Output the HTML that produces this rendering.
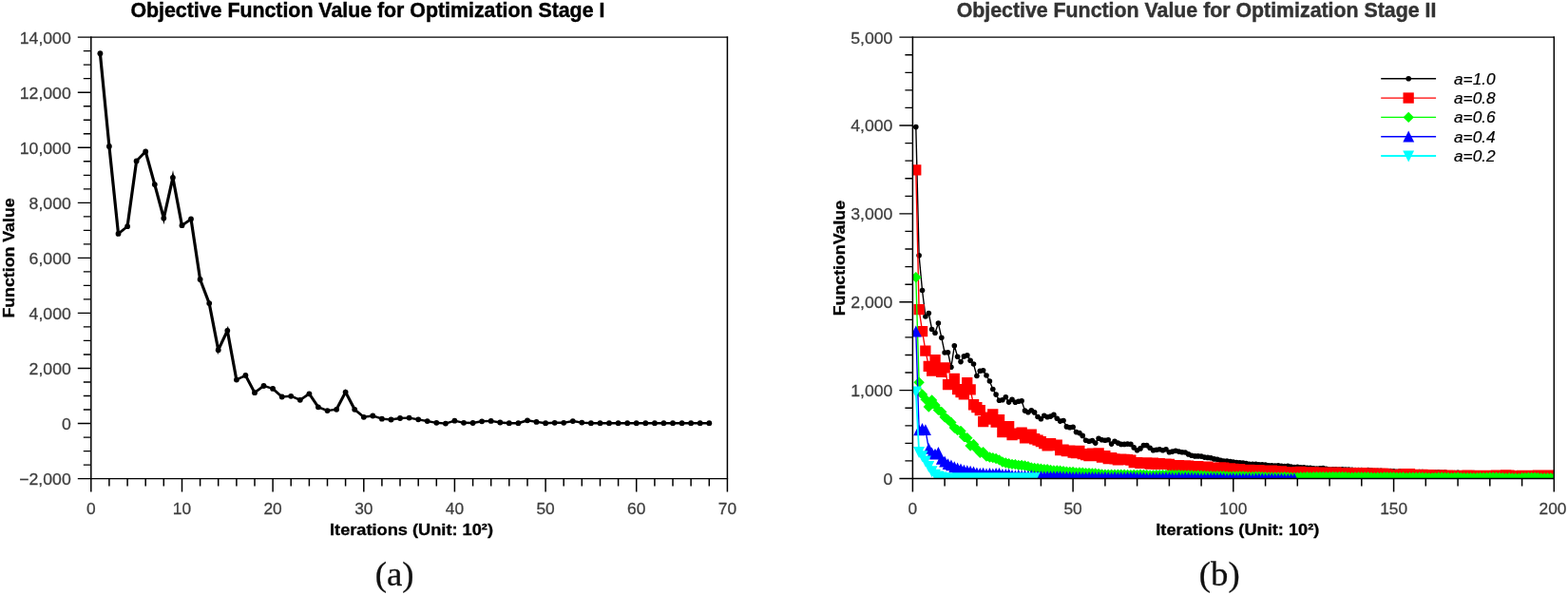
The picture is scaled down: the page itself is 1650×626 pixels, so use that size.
<!DOCTYPE html>
<html lang="en"><head><meta charset="utf-8"><title>Objective Function Value for Optimization Stages</title>
<style>
html,body{margin:0;padding:0;background:#fff;}
body{width:1650px;height:626px;overflow:hidden;}
svg{display:block;}
text{font-family:"Liberation Sans",sans-serif;}
.tl{font-size:16.7px;fill:#3d3d3d;stroke:#3d3d3d;stroke-width:.25px;}
.ttl{font-size:22.3px;font-weight:bold;stroke-width:.45px;}
.ax{font-size:15.7px;font-weight:bold;fill:#000;stroke:#000;stroke-width:.3px;}
.lg{font-size:16.5px;font-style:italic;fill:#000;stroke:#000;stroke-width:.2px;}
.cap{font-family:"Liberation Serif",serif;font-size:36.8px;fill:#111;stroke:#111;stroke-width:.3px;}
.axl{stroke:#000;fill:none;stroke-linecap:butt;}
</style></head><body>
<svg width="1650" height="626" viewBox="0 0 1650 626">
<rect width="1650" height="626" fill="#fff"/>
<defs>
<clipPath id="clipR"><rect x="960.4" y="39.1" width="674.9" height="464.4"/></clipPath>
</defs>
<g id="chart-a">
<text class="ttl" transform="translate(386.9 17.9) scale(0.957 1)" text-anchor="middle" fill="#000" stroke="#000">Objective Function Value for Optimization Stage I</text>
<text class="ax" transform="translate(14.7 271.5) rotate(-90) scale(1.13 1)" text-anchor="middle">Function Value</text>
<text class="ax" transform="translate(433 563.2) scale(1.16 1)" text-anchor="middle">Iterations (Unit: 10²)</text>
<polyline transform="scale(1.33 1)" fill="none" stroke="#000" stroke-width="2.4" stroke-linejoin="miter" stroke-miterlimit="10" points="79.22,56.2 86.41,154 93.61,245.9 100.80,238.2 107.99,169.4 115.18,159.5 122.38,194.1 129.57,229.6 136.76,186.8 143.95,237.2 151.15,230.5 158.34,294 165.53,319.1 172.72,368.2 179.91,347.8 187.11,399.6 194.30,395 201.49,413.2 208.68,406 215.88,408.9 223.07,417.5 230.26,416.8 237.45,420.8 244.64,414.3 251.84,428.3 259.03,432.1 266.22,430.8 273.41,412.6 280.61,430.8 287.80,438.8 294.99,437.5 302.18,440.7 309.37,441.5 316.57,440 323.76,439.6 330.95,441.3 338.14,443.1 345.34,444.8 352.53,445.6 359.72,442.7 366.91,444.8 374.11,445 381.30,443.3 388.49,442.9 395.68,444.5 402.87,445.2 410.07,445.2 417.26,442.3 424.45,443.9 431.64,445.2 438.84,444.8 446.03,444.8 453.22,443.1 460.41,444.6 467.60,445.2 474.80,445.2 481.99,445.2 489.18,445.2 496.37,445.2 503.57,445.2 510.76,445.2 517.95,445.2 525.14,445.2 532.34,445.2 539.53,445.2 546.72,445.2 553.91,445.2 561.10,445.2"/>
<g fill="#000"><circle cx="105.4" cy="56.2" r="2.9"/><circle cx="114.9" cy="154" r="2.9"/><circle cx="124.5" cy="245.9" r="2.9"/><circle cx="134.1" cy="238.2" r="2.9"/><circle cx="143.6" cy="169.4" r="2.9"/><circle cx="153.2" cy="159.5" r="2.9"/><circle cx="162.8" cy="194.1" r="2.9"/><circle cx="172.3" cy="229.6" r="2.9"/><circle cx="181.9" cy="186.8" r="2.9"/><circle cx="191.5" cy="237.2" r="2.9"/><circle cx="201" cy="230.5" r="2.9"/><circle cx="210.6" cy="294" r="2.9"/><circle cx="220.2" cy="319.1" r="2.9"/><circle cx="229.7" cy="368.2" r="2.9"/><circle cx="239.3" cy="347.8" r="2.9"/><circle cx="248.9" cy="399.6" r="2.9"/><circle cx="258.4" cy="395" r="2.9"/><circle cx="268" cy="413.2" r="2.9"/><circle cx="277.5" cy="406" r="2.9"/><circle cx="287.1" cy="408.9" r="2.9"/><circle cx="296.7" cy="417.5" r="2.9"/><circle cx="306.2" cy="416.8" r="2.9"/><circle cx="315.8" cy="420.8" r="2.9"/><circle cx="325.4" cy="414.3" r="2.9"/><circle cx="334.9" cy="428.3" r="2.9"/><circle cx="344.5" cy="432.1" r="2.9"/><circle cx="354.1" cy="430.8" r="2.9"/><circle cx="363.6" cy="412.6" r="2.9"/><circle cx="373.2" cy="430.8" r="2.9"/><circle cx="382.8" cy="438.8" r="2.9"/><circle cx="392.3" cy="437.5" r="2.9"/><circle cx="401.9" cy="440.7" r="2.9"/><circle cx="411.5" cy="441.5" r="2.9"/><circle cx="421" cy="440" r="2.9"/><circle cx="430.6" cy="439.6" r="2.9"/><circle cx="440.2" cy="441.3" r="2.9"/><circle cx="449.7" cy="443.1" r="2.9"/><circle cx="459.3" cy="444.8" r="2.9"/><circle cx="468.9" cy="445.6" r="2.9"/><circle cx="478.4" cy="442.7" r="2.9"/><circle cx="488" cy="444.8" r="2.9"/><circle cx="497.6" cy="445" r="2.9"/><circle cx="507.1" cy="443.3" r="2.9"/><circle cx="516.7" cy="442.9" r="2.9"/><circle cx="526.3" cy="444.5" r="2.9"/><circle cx="535.8" cy="445.2" r="2.9"/><circle cx="545.4" cy="445.2" r="2.9"/><circle cx="555" cy="442.3" r="2.9"/><circle cx="564.5" cy="443.9" r="2.9"/><circle cx="574.1" cy="445.2" r="2.9"/><circle cx="583.7" cy="444.8" r="2.9"/><circle cx="593.2" cy="444.8" r="2.9"/><circle cx="602.8" cy="443.1" r="2.9"/><circle cx="612.3" cy="444.6" r="2.9"/><circle cx="621.9" cy="445.2" r="2.9"/><circle cx="631.5" cy="445.2" r="2.9"/><circle cx="641" cy="445.2" r="2.9"/><circle cx="650.6" cy="445.2" r="2.9"/><circle cx="660.2" cy="445.2" r="2.9"/><circle cx="669.7" cy="445.2" r="2.9"/><circle cx="679.3" cy="445.2" r="2.9"/><circle cx="688.9" cy="445.2" r="2.9"/><circle cx="698.4" cy="445.2" r="2.9"/><circle cx="708" cy="445.2" r="2.9"/><circle cx="717.6" cy="445.2" r="2.9"/><circle cx="727.1" cy="445.2" r="2.9"/><circle cx="736.7" cy="445.2" r="2.9"/><circle cx="746.3" cy="445.2" r="2.9"/></g>
<path class="axl" stroke-width="1.35" d="M81.8 39.1H766.1M81.8 503.6H766.1M95.8 53.6h-8M95.8 68.1h-8M95.8 82.6h-8M95.8 97.2h-14M95.8 111.7h-8M95.8 126.2h-8M95.8 140.7h-8M95.8 155.2h-14M95.8 169.7h-8M95.8 184.3h-8M95.8 198.8h-8M95.8 213.3h-14M95.8 227.8h-8M95.8 242.3h-8M95.8 256.8h-8M95.8 271.4h-14M95.8 285.9h-8M95.8 300.4h-8M95.8 314.9h-8M95.8 329.4h-14M95.8 343.9h-8M95.8 358.4h-8M95.8 373h-8M95.8 387.5h-14M95.8 402h-8M95.8 416.5h-8M95.8 431h-8M95.8 445.5h-14M95.8 460.1h-8M95.8 474.6h-8M95.8 489.1h-8"/>
<path class="axl" stroke-width="1.5" d="M95.8 38.4V517.6M765.4 38.4V517.6M114.9 503.6v8M134.1 503.6v8M153.2 503.6v8M172.3 503.6v8M191.5 503.6v14M210.6 503.6v8M229.7 503.6v8M248.9 503.6v8M268 503.6v8M287.1 503.6v14M306.2 503.6v8M325.4 503.6v8M344.5 503.6v8M363.6 503.6v8M382.8 503.6v14M401.9 503.6v8M421 503.6v8M440.2 503.6v8M459.3 503.6v8M478.4 503.6v14M497.6 503.6v8M516.7 503.6v8M535.8 503.6v8M555 503.6v8M574.1 503.6v14M593.2 503.6v8M612.3 503.6v8M631.5 503.6v8M650.6 503.6v8M669.7 503.6v14M688.9 503.6v8M708 503.6v8M727.1 503.6v8M746.3 503.6v8"/>
<text class="tl" transform="translate(74.8 45.5) scale(1.06 1)" text-anchor="end">14,000</text>
<text class="tl" transform="translate(74.8 103.6) scale(1.06 1)" text-anchor="end">12,000</text>
<text class="tl" transform="translate(74.8 161.6) scale(1.06 1)" text-anchor="end">10,000</text>
<text class="tl" transform="translate(74.8 219.7) scale(1.06 1)" text-anchor="end">8,000</text>
<text class="tl" transform="translate(74.8 277.8) scale(1.06 1)" text-anchor="end">6,000</text>
<text class="tl" transform="translate(74.8 335.8) scale(1.06 1)" text-anchor="end">4,000</text>
<text class="tl" transform="translate(74.8 393.9) scale(1.06 1)" text-anchor="end">2,000</text>
<text class="tl" transform="translate(74.8 451.9) scale(1.06 1)" text-anchor="end">0</text>
<text class="tl" transform="translate(74.8 510) scale(1.06 1)" text-anchor="end">−2,000</text>
<text class="tl" transform="translate(95.8 541.4) scale(1.04 1)" text-anchor="middle">0</text>
<text class="tl" transform="translate(191.5 541.4) scale(1.04 1)" text-anchor="middle">10</text>
<text class="tl" transform="translate(287.1 541.4) scale(1.04 1)" text-anchor="middle">20</text>
<text class="tl" transform="translate(382.8 541.4) scale(1.04 1)" text-anchor="middle">30</text>
<text class="tl" transform="translate(478.4 541.4) scale(1.04 1)" text-anchor="middle">40</text>
<text class="tl" transform="translate(574.1 541.4) scale(1.04 1)" text-anchor="middle">50</text>
<text class="tl" transform="translate(669.7 541.4) scale(1.04 1)" text-anchor="middle">60</text>
<text class="tl" transform="translate(765.4 541.4) scale(1.04 1)" text-anchor="middle">70</text>
<text class="cap" transform="translate(415.1 616.3)" text-anchor="middle">(a)</text>
</g>
<g id="chart-b">
<text class="ttl" transform="translate(1259 17.9) scale(0.9565 1)" text-anchor="middle" fill="#333" stroke="#333">Objective Function Value for Optimization Stage II</text>
<text class="ax" transform="translate(889.4 271.6) rotate(-90) scale(1.13 1)" text-anchor="middle">FunctionValue</text>
<text class="ax" transform="translate(1302.3 563.2) scale(1.16 1)" text-anchor="middle">Iterations (Unit: 10²)</text>
<g clip-path="url(#clipR)">
<polyline fill="none" stroke="#000" stroke-width="1.4" stroke-linejoin="miter" points="963.8,133.6 967.1,268.7 970.5,305.5 973.9,333 977.3,329.6 980.6,346.5 984,350.2 987.4,340 990.8,355.3 994.1,371 997.5,370.7 1000.9,386.3 1004.3,363.8 1007.6,375.3 1011,380.6 1014.4,374.9 1017.8,373.9 1021.1,379.2 1024.5,383 1027.9,395.5 1031.3,390.2 1034.6,389.8 1038,395 1041.4,401 1044.8,409.5 1048.1,415.1 1051.5,421.2 1054.9,420.8 1058.3,417.7 1061.6,423.1 1065,420.2 1068.4,423.3 1071.8,422.2 1075.1,421.8 1078.5,432.1 1081.9,433.7 1085.3,431.7 1088.6,433.9 1092,438.5 1095.4,440.8 1098.8,437.3 1102.1,438.7 1105.5,438.1 1108.9,436.4 1112.3,440.2 1115.6,443.1 1119,442.5 1122.4,448.9 1125.8,449.8 1129.1,449.2 1132.5,454.6 1135.9,455.6 1139.2,458.4 1142.6,463.2 1146,464.2 1149.4,463.6 1152.7,466.1 1156.1,461.3 1159.5,462.8 1162.9,463.2 1166.2,462.8 1169.6,467.1 1173,464.2 1176.4,466.1 1179.7,467.4 1183.1,467.4 1186.5,467.1 1189.9,467.4 1193.2,470.9 1196.6,473.8 1200,471.9 1203.4,468.6 1206.7,468.6 1210.1,471.3 1213.5,473.8 1216.9,473.2 1220.2,472.8 1223.6,473.8 1227,472.8 1230.4,475.7 1233.7,475.1 1237.1,474.3 1240.5,475.1 1243.9,475.7 1247.2,476 1250.6,477.9 1254,479.3 1257.4,479.9 1260.7,479.9 1264.1,480.1 1267.5,481.1 1270.9,481.4 1274.2,481.7 1277.6,482.9 1281,483.2 1284.4,484.3 1287.7,485 1291.1,485.1 1294.5,485.5 1297.8,486 1301.2,486.5 1304.6,486.8 1308,487.1 1311.3,487.5 1314.7,488.2 1318.1,488.2 1321.5,488.4 1324.8,488.9 1328.2,488.8 1331.6,489 1335,489.9 1338.3,489.9 1341.7,490.1 1345.1,489.8 1348.5,490.2 1351.8,490.6 1355.2,490.4 1358.6,491 1362,491.5 1365.3,491.2 1368.7,491.7 1372.1,491.9 1375.5,492.4 1378.8,492.3 1382.2,492.8 1385.6,493.1 1389,492.7 1392.3,492.6 1395.7,493.3 1399.1,494 1402.5,493.7 1405.8,493.8 1409.2,494 1412.6,493.9 1416,494 1419.3,494 1422.7,494.2 1426.1,494.5 1429.5,494.5 1432.8,494.6 1436.2,495.1 1439.6,494.6 1443,495 1446.3,495.5 1449.7,495.3 1453.1,495.2 1456.5,495.8 1459.8,495.6 1463.2,495.5 1466.6,495.8 1469.9,496.2 1473.3,495.8 1476.7,495.9 1480.1,496 1483.4,496.7 1486.8,496.6 1490.2,497 1493.6,496.6 1496.9,496.6 1500.3,497 1503.7,497.4 1507.1,497.3 1510.4,497 1513.8,496.8 1517.2,497.2 1520.6,497.1 1523.9,497.7 1527.3,498 1530.7,497.5 1534.1,497.4 1537.4,497.9 1540.8,498 1544.2,498.3 1547.6,498 1550.9,497.6 1554.3,497.7 1557.7,498.3 1561.1,498 1564.4,498 1567.8,498.1 1571.2,498.2 1574.6,498.2 1577.9,498.8 1581.3,498.2 1584.7,497.9 1588.1,498.7 1591.4,499 1594.8,499.3 1598.2,498.9 1601.6,499.2 1604.9,499.4 1608.3,498.7 1611.7,499 1615.1,499.3 1618.4,499.2 1621.8,499 1625.2,498.8 1628.6,498.7 1631.9,498.6 1635.3,498.4"/>
<g fill="#000"><circle cx="963.8" cy="133.6" r="2.8"/><circle cx="967.1" cy="268.7" r="2.8"/><circle cx="970.5" cy="305.5" r="2.8"/><circle cx="973.9" cy="333" r="2.8"/><circle cx="977.3" cy="329.6" r="2.8"/><circle cx="980.6" cy="346.5" r="2.8"/><circle cx="984" cy="350.2" r="2.8"/><circle cx="987.4" cy="340" r="2.8"/><circle cx="990.8" cy="355.3" r="2.8"/><circle cx="994.1" cy="371" r="2.8"/><circle cx="997.5" cy="370.7" r="2.8"/><circle cx="1000.9" cy="386.3" r="2.8"/><circle cx="1004.3" cy="363.8" r="2.8"/><circle cx="1007.6" cy="375.3" r="2.8"/><circle cx="1011" cy="380.6" r="2.8"/><circle cx="1014.4" cy="374.9" r="2.8"/><circle cx="1017.8" cy="373.9" r="2.8"/><circle cx="1021.1" cy="379.2" r="2.8"/><circle cx="1024.5" cy="383" r="2.8"/><circle cx="1027.9" cy="395.5" r="2.8"/><circle cx="1031.3" cy="390.2" r="2.8"/><circle cx="1034.6" cy="389.8" r="2.8"/><circle cx="1038" cy="395" r="2.8"/><circle cx="1041.4" cy="401" r="2.8"/><circle cx="1044.8" cy="409.5" r="2.8"/><circle cx="1048.1" cy="415.1" r="2.8"/><circle cx="1051.5" cy="421.2" r="2.8"/><circle cx="1054.9" cy="420.8" r="2.8"/><circle cx="1058.3" cy="417.7" r="2.8"/><circle cx="1061.6" cy="423.1" r="2.8"/><circle cx="1065" cy="420.2" r="2.8"/><circle cx="1068.4" cy="423.3" r="2.8"/><circle cx="1071.8" cy="422.2" r="2.8"/><circle cx="1075.1" cy="421.8" r="2.8"/><circle cx="1078.5" cy="432.1" r="2.8"/><circle cx="1081.9" cy="433.7" r="2.8"/><circle cx="1085.3" cy="431.7" r="2.8"/><circle cx="1088.6" cy="433.9" r="2.8"/><circle cx="1092" cy="438.5" r="2.8"/><circle cx="1095.4" cy="440.8" r="2.8"/><circle cx="1098.8" cy="437.3" r="2.8"/><circle cx="1102.1" cy="438.7" r="2.8"/><circle cx="1105.5" cy="438.1" r="2.8"/><circle cx="1108.9" cy="436.4" r="2.8"/><circle cx="1112.3" cy="440.2" r="2.8"/><circle cx="1115.6" cy="443.1" r="2.8"/><circle cx="1119" cy="442.5" r="2.8"/><circle cx="1122.4" cy="448.9" r="2.8"/><circle cx="1125.8" cy="449.8" r="2.8"/><circle cx="1129.1" cy="449.2" r="2.8"/><circle cx="1132.5" cy="454.6" r="2.8"/><circle cx="1135.9" cy="455.6" r="2.8"/><circle cx="1139.2" cy="458.4" r="2.8"/><circle cx="1142.6" cy="463.2" r="2.8"/><circle cx="1146" cy="464.2" r="2.8"/><circle cx="1149.4" cy="463.6" r="2.8"/><circle cx="1152.7" cy="466.1" r="2.8"/><circle cx="1156.1" cy="461.3" r="2.8"/><circle cx="1159.5" cy="462.8" r="2.8"/><circle cx="1162.9" cy="463.2" r="2.8"/><circle cx="1166.2" cy="462.8" r="2.8"/><circle cx="1169.6" cy="467.1" r="2.8"/><circle cx="1173" cy="464.2" r="2.8"/><circle cx="1176.4" cy="466.1" r="2.8"/><circle cx="1179.7" cy="467.4" r="2.8"/><circle cx="1183.1" cy="467.4" r="2.8"/><circle cx="1186.5" cy="467.1" r="2.8"/><circle cx="1189.9" cy="467.4" r="2.8"/><circle cx="1193.2" cy="470.9" r="2.8"/><circle cx="1196.6" cy="473.8" r="2.8"/><circle cx="1200" cy="471.9" r="2.8"/><circle cx="1203.4" cy="468.6" r="2.8"/><circle cx="1206.7" cy="468.6" r="2.8"/><circle cx="1210.1" cy="471.3" r="2.8"/><circle cx="1213.5" cy="473.8" r="2.8"/><circle cx="1216.9" cy="473.2" r="2.8"/><circle cx="1220.2" cy="472.8" r="2.8"/><circle cx="1223.6" cy="473.8" r="2.8"/><circle cx="1227" cy="472.8" r="2.8"/><circle cx="1230.4" cy="475.7" r="2.8"/><circle cx="1233.7" cy="475.1" r="2.8"/><circle cx="1237.1" cy="474.3" r="2.8"/><circle cx="1240.5" cy="475.1" r="2.8"/><circle cx="1243.9" cy="475.7" r="2.8"/><circle cx="1247.2" cy="476" r="2.8"/><circle cx="1250.6" cy="477.9" r="2.8"/><circle cx="1254" cy="479.3" r="2.8"/><circle cx="1257.4" cy="479.9" r="2.8"/><circle cx="1260.7" cy="479.9" r="2.8"/><circle cx="1264.1" cy="480.1" r="2.8"/><circle cx="1267.5" cy="481.1" r="2.8"/><circle cx="1270.9" cy="481.4" r="2.8"/><circle cx="1274.2" cy="481.7" r="2.8"/><circle cx="1277.6" cy="482.9" r="2.8"/><circle cx="1281" cy="483.2" r="2.8"/><circle cx="1284.4" cy="484.3" r="2.8"/><circle cx="1287.7" cy="485" r="2.8"/><circle cx="1291.1" cy="485.1" r="2.8"/><circle cx="1294.5" cy="485.5" r="2.8"/><circle cx="1297.8" cy="486" r="2.8"/><circle cx="1301.2" cy="486.5" r="2.8"/><circle cx="1304.6" cy="486.8" r="2.8"/><circle cx="1308" cy="487.1" r="2.8"/><circle cx="1311.3" cy="487.5" r="2.8"/><circle cx="1314.7" cy="488.2" r="2.8"/><circle cx="1318.1" cy="488.2" r="2.8"/><circle cx="1321.5" cy="488.4" r="2.8"/><circle cx="1324.8" cy="488.9" r="2.8"/><circle cx="1328.2" cy="488.8" r="2.8"/><circle cx="1331.6" cy="489" r="2.8"/><circle cx="1335" cy="489.9" r="2.8"/><circle cx="1338.3" cy="489.9" r="2.8"/><circle cx="1341.7" cy="490.1" r="2.8"/><circle cx="1345.1" cy="489.8" r="2.8"/><circle cx="1348.5" cy="490.2" r="2.8"/><circle cx="1351.8" cy="490.6" r="2.8"/><circle cx="1355.2" cy="490.4" r="2.8"/><circle cx="1358.6" cy="491" r="2.8"/><circle cx="1362" cy="491.5" r="2.8"/><circle cx="1365.3" cy="491.2" r="2.8"/><circle cx="1368.7" cy="491.7" r="2.8"/><circle cx="1372.1" cy="491.9" r="2.8"/><circle cx="1375.5" cy="492.4" r="2.8"/><circle cx="1378.8" cy="492.3" r="2.8"/><circle cx="1382.2" cy="492.8" r="2.8"/><circle cx="1385.6" cy="493.1" r="2.8"/><circle cx="1389" cy="492.7" r="2.8"/><circle cx="1392.3" cy="492.6" r="2.8"/><circle cx="1395.7" cy="493.3" r="2.8"/><circle cx="1399.1" cy="494" r="2.8"/><circle cx="1402.5" cy="493.7" r="2.8"/><circle cx="1405.8" cy="493.8" r="2.8"/><circle cx="1409.2" cy="494" r="2.8"/><circle cx="1412.6" cy="493.9" r="2.8"/><circle cx="1416" cy="494" r="2.8"/><circle cx="1419.3" cy="494" r="2.8"/><circle cx="1422.7" cy="494.2" r="2.8"/><circle cx="1426.1" cy="494.5" r="2.8"/><circle cx="1429.5" cy="494.5" r="2.8"/><circle cx="1432.8" cy="494.6" r="2.8"/><circle cx="1436.2" cy="495.1" r="2.8"/><circle cx="1439.6" cy="494.6" r="2.8"/><circle cx="1443" cy="495" r="2.8"/><circle cx="1446.3" cy="495.5" r="2.8"/><circle cx="1449.7" cy="495.3" r="2.8"/><circle cx="1453.1" cy="495.2" r="2.8"/><circle cx="1456.5" cy="495.8" r="2.8"/><circle cx="1459.8" cy="495.6" r="2.8"/><circle cx="1463.2" cy="495.5" r="2.8"/><circle cx="1466.6" cy="495.8" r="2.8"/><circle cx="1469.9" cy="496.2" r="2.8"/><circle cx="1473.3" cy="495.8" r="2.8"/><circle cx="1476.7" cy="495.9" r="2.8"/><circle cx="1480.1" cy="496" r="2.8"/><circle cx="1483.4" cy="496.7" r="2.8"/><circle cx="1486.8" cy="496.6" r="2.8"/><circle cx="1490.2" cy="497" r="2.8"/><circle cx="1493.6" cy="496.6" r="2.8"/><circle cx="1496.9" cy="496.6" r="2.8"/><circle cx="1500.3" cy="497" r="2.8"/><circle cx="1503.7" cy="497.4" r="2.8"/><circle cx="1507.1" cy="497.3" r="2.8"/><circle cx="1510.4" cy="497" r="2.8"/><circle cx="1513.8" cy="496.8" r="2.8"/><circle cx="1517.2" cy="497.2" r="2.8"/><circle cx="1520.6" cy="497.1" r="2.8"/><circle cx="1523.9" cy="497.7" r="2.8"/><circle cx="1527.3" cy="498" r="2.8"/><circle cx="1530.7" cy="497.5" r="2.8"/><circle cx="1534.1" cy="497.4" r="2.8"/><circle cx="1537.4" cy="497.9" r="2.8"/><circle cx="1540.8" cy="498" r="2.8"/><circle cx="1544.2" cy="498.3" r="2.8"/><circle cx="1547.6" cy="498" r="2.8"/><circle cx="1550.9" cy="497.6" r="2.8"/><circle cx="1554.3" cy="497.7" r="2.8"/><circle cx="1557.7" cy="498.3" r="2.8"/><circle cx="1561.1" cy="498" r="2.8"/><circle cx="1564.4" cy="498" r="2.8"/><circle cx="1567.8" cy="498.1" r="2.8"/><circle cx="1571.2" cy="498.2" r="2.8"/><circle cx="1574.6" cy="498.2" r="2.8"/><circle cx="1577.9" cy="498.8" r="2.8"/><circle cx="1581.3" cy="498.2" r="2.8"/><circle cx="1584.7" cy="497.9" r="2.8"/><circle cx="1588.1" cy="498.7" r="2.8"/><circle cx="1591.4" cy="499" r="2.8"/><circle cx="1594.8" cy="499.3" r="2.8"/><circle cx="1598.2" cy="498.9" r="2.8"/><circle cx="1601.6" cy="499.2" r="2.8"/><circle cx="1604.9" cy="499.4" r="2.8"/><circle cx="1608.3" cy="498.7" r="2.8"/><circle cx="1611.7" cy="499" r="2.8"/><circle cx="1615.1" cy="499.3" r="2.8"/><circle cx="1618.4" cy="499.2" r="2.8"/><circle cx="1621.8" cy="499" r="2.8"/><circle cx="1625.2" cy="498.8" r="2.8"/><circle cx="1628.6" cy="498.7" r="2.8"/><circle cx="1631.9" cy="498.6" r="2.8"/><circle cx="1635.3" cy="498.4" r="2.8"/></g>
<polyline fill="none" stroke="#f00" stroke-width="1.4" stroke-linejoin="miter" points="963.8,178.8 967.1,325.6 970.5,348.5 973.9,369.1 977.3,385.3 980.6,390 984,378.6 987.4,388 990.8,391.4 994.1,386.9 997.5,404.5 1000.9,404.5 1004.3,398.4 1007.6,409.6 1011,412.5 1014.4,414.9 1017.8,402.7 1021.1,409.9 1024.5,425.7 1027.9,428.6 1031.3,431.5 1034.6,443.6 1038,441 1041.4,439 1044.8,435.8 1048.1,444 1051.5,441.5 1054.9,454.6 1058.3,452 1061.6,448.7 1065,457.5 1068.4,456 1071.8,456.5 1075.1,455 1078.5,460.8 1081.9,457 1085.3,457 1088.6,461.7 1092,463 1095.4,464.6 1098.8,466.5 1102.1,468.8 1105.5,466.5 1108.9,468.5 1112.3,468.2 1115.6,473.6 1119,473 1122.4,474.5 1125.8,474 1129.1,476 1132.5,476.5 1135.9,474.4 1139.2,477.5 1142.6,478.5 1146,479.5 1149.4,477 1152.7,479.5 1156.1,476.8 1159.5,481 1162.9,479.5 1166.2,482.5 1169.6,481.5 1173,483 1176.4,483.9 1179.7,483.1 1183.1,483.5 1186.5,483.7 1189.9,484.1 1193.2,486.5 1196.6,486.5 1200,487.2 1203.4,487.4 1206.7,486.9 1210.1,488 1213.5,487.3 1216.9,488.2 1220.2,487.7 1223.6,488.2 1227,488.2 1230.4,488.4 1233.7,489.9 1237.1,490.3 1240.5,489.7 1243.9,490.6 1247.2,489.9 1250.6,490.1 1254,491 1257.4,491.2 1260.7,490.6 1264.1,491.8 1267.5,491.3 1270.9,491.3 1274.2,492.1 1277.6,492 1281,492.1 1284.4,492 1287.7,492.1 1291.1,492.8 1294.5,492.9 1297.8,493.5 1301.2,493.5 1304.6,493.7 1308,494.4 1311.3,494.3 1314.7,494.5 1318.1,494.9 1321.5,494.6 1324.8,494.5 1328.2,495.2 1331.6,495.6 1335,495.3 1338.3,495.3 1341.7,495.8 1345.1,496.3 1348.5,496 1351.8,496.6 1355.2,496.9 1358.6,496.9 1362,496.8 1365.3,496.6 1368.7,496.4 1372.1,497.2 1375.5,496.9 1378.8,497.2 1382.2,497 1385.6,497.4 1389,497.4 1392.3,497.2 1395.7,497 1399.1,497.4 1402.5,497.1 1405.8,497.2 1409.2,497.5 1412.6,498 1416,498 1419.3,497.8 1422.7,498.3 1426.1,497.9 1429.5,497.6 1432.8,497.8 1436.2,498 1439.6,497.8 1443,497.9 1446.3,498.1 1449.7,498.5 1453.1,498.3 1456.5,498.4 1459.8,499 1463.2,499.4 1466.6,499.3 1469.9,499.3 1473.3,499.3 1476.7,499 1480.1,498.8 1483.4,498.7 1486.8,499.5 1490.2,499.7 1493.6,500 1496.9,499.4 1500.3,499.7 1503.7,499.8 1507.1,500.1 1510.4,499.9 1513.8,500.4 1517.2,499.9 1520.6,500.1 1523.9,500.3 1527.3,500.5 1530.7,500.5 1534.1,500.5 1537.4,500.6 1540.8,500.7 1544.2,500.3 1547.6,500.4 1550.9,500.6 1554.3,500.7 1557.7,500.4 1561.1,500.5 1564.4,500.7 1567.8,500.5 1571.2,500.5 1574.6,500.2 1577.9,500.3 1581.3,500.4 1584.7,500 1588.1,500.3 1591.4,500.7 1594.8,500.8 1598.2,500.7 1601.6,500.4 1604.9,500.6 1608.3,500.5 1611.7,500.4 1615.1,500.6 1618.4,500.1 1621.8,500.5 1625.2,500 1628.6,500.3 1631.9,500.3 1635.3,500.1"/>
<path fill="#f00" d="M958.1 173.2h11.3v11.3h-11.3zM961.5 320h11.3v11.3h-11.3zM964.9 342.9h11.3v11.3h-11.3zM968.2 363.5h11.3v11.3h-11.3zM971.6 379.7h11.3v11.3h-11.3zM975 384.4h11.3v11.3h-11.3zM978.4 373h11.3v11.3h-11.3zM981.7 382.4h11.3v11.3h-11.3zM985.1 385.8h11.3v11.3h-11.3zM988.5 381.2h11.3v11.3h-11.3zM991.9 398.9h11.3v11.3h-11.3zM995.2 398.9h11.3v11.3h-11.3zM998.6 392.8h11.3v11.3h-11.3zM1002 404h11.3v11.3h-11.3zM1005.4 406.9h11.3v11.3h-11.3zM1008.7 409.2h11.3v11.3h-11.3zM1012.1 397.1h11.3v11.3h-11.3zM1015.5 404.2h11.3v11.3h-11.3zM1018.9 420.1h11.3v11.3h-11.3zM1022.2 423h11.3v11.3h-11.3zM1025.6 425.9h11.3v11.3h-11.3zM1029 438h11.3v11.3h-11.3zM1032.4 435.4h11.3v11.3h-11.3zM1035.7 433.4h11.3v11.3h-11.3zM1039.1 430.2h11.3v11.3h-11.3zM1042.5 438.4h11.3v11.3h-11.3zM1045.9 435.9h11.3v11.3h-11.3zM1049.2 449h11.3v11.3h-11.3zM1052.6 446.4h11.3v11.3h-11.3zM1056 443.1h11.3v11.3h-11.3zM1059.4 451.9h11.3v11.3h-11.3zM1062.7 450.4h11.3v11.3h-11.3zM1066.1 450.9h11.3v11.3h-11.3zM1069.5 449.4h11.3v11.3h-11.3zM1072.9 455.2h11.3v11.3h-11.3zM1076.2 451.4h11.3v11.3h-11.3zM1079.6 451.4h11.3v11.3h-11.3zM1083 456.1h11.3v11.3h-11.3zM1086.4 457.4h11.3v11.3h-11.3zM1089.7 459h11.3v11.3h-11.3zM1093.1 460.9h11.3v11.3h-11.3zM1096.5 463.2h11.3v11.3h-11.3zM1099.9 460.9h11.3v11.3h-11.3zM1103.2 462.9h11.3v11.3h-11.3zM1106.6 462.6h11.3v11.3h-11.3zM1110 468h11.3v11.3h-11.3zM1113.4 467.4h11.3v11.3h-11.3zM1116.7 468.9h11.3v11.3h-11.3zM1120.1 468.4h11.3v11.3h-11.3zM1123.5 470.4h11.3v11.3h-11.3zM1126.8 470.9h11.3v11.3h-11.3zM1130.2 468.8h11.3v11.3h-11.3zM1133.6 471.9h11.3v11.3h-11.3zM1137 472.9h11.3v11.3h-11.3zM1140.3 473.9h11.3v11.3h-11.3zM1143.7 471.4h11.3v11.3h-11.3zM1147.1 473.9h11.3v11.3h-11.3zM1150.5 471.2h11.3v11.3h-11.3zM1153.8 475.4h11.3v11.3h-11.3zM1157.2 473.9h11.3v11.3h-11.3zM1160.6 476.9h11.3v11.3h-11.3zM1164 475.9h11.3v11.3h-11.3zM1167.3 477.3h11.3v11.3h-11.3zM1170.7 478.3h11.3v11.3h-11.3zM1174.1 477.4h11.3v11.3h-11.3zM1177.5 477.8h11.3v11.3h-11.3zM1180.8 478h11.3v11.3h-11.3zM1184.2 478.5h11.3v11.3h-11.3zM1187.6 480.9h11.3v11.3h-11.3zM1191 480.9h11.3v11.3h-11.3zM1194.3 481.6h11.3v11.3h-11.3zM1197.7 481.7h11.3v11.3h-11.3zM1201.1 481.3h11.3v11.3h-11.3zM1204.5 482.4h11.3v11.3h-11.3zM1207.8 481.6h11.3v11.3h-11.3zM1211.2 482.6h11.3v11.3h-11.3zM1214.6 482h11.3v11.3h-11.3zM1218 482.6h11.3v11.3h-11.3zM1221.3 482.5h11.3v11.3h-11.3zM1224.7 482.8h11.3v11.3h-11.3zM1228.1 484.3h11.3v11.3h-11.3zM1231.5 484.7h11.3v11.3h-11.3zM1234.8 484.1h11.3v11.3h-11.3zM1238.2 484.9h11.3v11.3h-11.3zM1241.6 484.3h11.3v11.3h-11.3zM1245 484.4h11.3v11.3h-11.3zM1248.3 485.4h11.3v11.3h-11.3zM1251.7 485.6h11.3v11.3h-11.3zM1255.1 485h11.3v11.3h-11.3zM1258.5 486.1h11.3v11.3h-11.3zM1261.8 485.7h11.3v11.3h-11.3zM1265.2 485.6h11.3v11.3h-11.3zM1268.6 486.5h11.3v11.3h-11.3zM1272 486.4h11.3v11.3h-11.3zM1275.3 486.4h11.3v11.3h-11.3zM1278.7 486.3h11.3v11.3h-11.3zM1282.1 486.4h11.3v11.3h-11.3zM1285.5 487.2h11.3v11.3h-11.3zM1288.8 487.3h11.3v11.3h-11.3zM1292.2 487.8h11.3v11.3h-11.3zM1295.6 487.9h11.3v11.3h-11.3zM1298.9 488.1h11.3v11.3h-11.3zM1302.3 488.7h11.3v11.3h-11.3zM1305.7 488.7h11.3v11.3h-11.3zM1309.1 488.8h11.3v11.3h-11.3zM1312.4 489.2h11.3v11.3h-11.3zM1315.8 488.9h11.3v11.3h-11.3zM1319.2 488.9h11.3v11.3h-11.3zM1322.6 489.6h11.3v11.3h-11.3zM1325.9 489.9h11.3v11.3h-11.3zM1329.3 489.7h11.3v11.3h-11.3zM1332.7 489.6h11.3v11.3h-11.3zM1336.1 490.1h11.3v11.3h-11.3zM1339.4 490.6h11.3v11.3h-11.3zM1342.8 490.3h11.3v11.3h-11.3zM1346.2 490.9h11.3v11.3h-11.3zM1349.6 491.2h11.3v11.3h-11.3zM1352.9 491.2h11.3v11.3h-11.3zM1356.3 491.2h11.3v11.3h-11.3zM1359.7 490.9h11.3v11.3h-11.3zM1363.1 490.8h11.3v11.3h-11.3zM1366.4 491.5h11.3v11.3h-11.3zM1369.8 491.2h11.3v11.3h-11.3zM1373.2 491.6h11.3v11.3h-11.3zM1376.6 491.3h11.3v11.3h-11.3zM1379.9 491.8h11.3v11.3h-11.3zM1383.3 491.8h11.3v11.3h-11.3zM1386.7 491.6h11.3v11.3h-11.3zM1390.1 491.4h11.3v11.3h-11.3zM1393.4 491.8h11.3v11.3h-11.3zM1396.8 491.5h11.3v11.3h-11.3zM1400.2 491.5h11.3v11.3h-11.3zM1403.6 491.9h11.3v11.3h-11.3zM1406.9 492.3h11.3v11.3h-11.3zM1410.3 492.3h11.3v11.3h-11.3zM1413.7 492.1h11.3v11.3h-11.3zM1417.1 492.6h11.3v11.3h-11.3zM1420.4 492.3h11.3v11.3h-11.3zM1423.8 492h11.3v11.3h-11.3zM1427.2 492.1h11.3v11.3h-11.3zM1430.6 492.4h11.3v11.3h-11.3zM1433.9 492.2h11.3v11.3h-11.3zM1437.3 492.3h11.3v11.3h-11.3zM1440.7 492.5h11.3v11.3h-11.3zM1444.1 492.8h11.3v11.3h-11.3zM1447.4 492.6h11.3v11.3h-11.3zM1450.8 492.8h11.3v11.3h-11.3zM1454.2 493.3h11.3v11.3h-11.3zM1457.6 493.7h11.3v11.3h-11.3zM1460.9 493.7h11.3v11.3h-11.3zM1464.3 493.7h11.3v11.3h-11.3zM1467.7 493.7h11.3v11.3h-11.3zM1471 493.3h11.3v11.3h-11.3zM1474.4 493.1h11.3v11.3h-11.3zM1477.8 493h11.3v11.3h-11.3zM1481.2 493.8h11.3v11.3h-11.3zM1484.5 494h11.3v11.3h-11.3zM1487.9 494.4h11.3v11.3h-11.3zM1491.3 493.8h11.3v11.3h-11.3zM1494.7 494.1h11.3v11.3h-11.3zM1498 494.1h11.3v11.3h-11.3zM1501.4 494.4h11.3v11.3h-11.3zM1504.8 494.2h11.3v11.3h-11.3zM1508.2 494.8h11.3v11.3h-11.3zM1511.5 494.3h11.3v11.3h-11.3zM1514.9 494.4h11.3v11.3h-11.3zM1518.3 494.6h11.3v11.3h-11.3zM1521.7 494.9h11.3v11.3h-11.3zM1525 494.9h11.3v11.3h-11.3zM1528.4 494.8h11.3v11.3h-11.3zM1531.8 494.9h11.3v11.3h-11.3zM1535.2 495h11.3v11.3h-11.3zM1538.5 494.6h11.3v11.3h-11.3zM1541.9 494.7h11.3v11.3h-11.3zM1545.3 495h11.3v11.3h-11.3zM1548.7 495.1h11.3v11.3h-11.3zM1552 494.7h11.3v11.3h-11.3zM1555.4 494.9h11.3v11.3h-11.3zM1558.8 495h11.3v11.3h-11.3zM1562.2 494.8h11.3v11.3h-11.3zM1565.5 494.8h11.3v11.3h-11.3zM1568.9 494.6h11.3v11.3h-11.3zM1572.3 494.7h11.3v11.3h-11.3zM1575.7 494.7h11.3v11.3h-11.3zM1579 494.3h11.3v11.3h-11.3zM1582.4 494.6h11.3v11.3h-11.3zM1585.8 495.1h11.3v11.3h-11.3zM1589.2 495.2h11.3v11.3h-11.3zM1592.5 495.1h11.3v11.3h-11.3zM1595.9 494.8h11.3v11.3h-11.3zM1599.3 494.9h11.3v11.3h-11.3zM1602.7 494.9h11.3v11.3h-11.3zM1606 494.7h11.3v11.3h-11.3zM1609.4 495h11.3v11.3h-11.3zM1612.8 494.5h11.3v11.3h-11.3zM1616.2 494.8h11.3v11.3h-11.3zM1619.5 494.4h11.3v11.3h-11.3zM1622.9 494.7h11.3v11.3h-11.3zM1626.3 494.7h11.3v11.3h-11.3zM1629.6 494.5h11.3v11.3h-11.3z"/>
<polyline fill="none" stroke="#0f0" stroke-width="1.4" stroke-linejoin="miter" points="963.8,291.7 967.1,402.2 970.5,415 973.9,420 977.3,428 980.6,421 984,426.3 987.4,431.4 990.8,433.4 994.1,438.7 997.5,441.6 1000.9,444.5 1004.3,450 1007.6,452.5 1011,453.5 1014.4,459.4 1017.8,460.8 1021.1,469 1024.5,467.5 1027.9,472.5 1031.3,476.2 1034.6,475.7 1038,480 1041.4,481 1044.8,481.6 1048.1,482.5 1051.5,483.9 1054.9,486 1058.3,487 1061.6,487.7 1065,488.4 1068.4,488.6 1071.8,489.4 1075.1,489.5 1078.5,490 1081.9,490.7 1085.3,491.9 1088.6,492.5 1092,492.7 1095.4,493.3 1098.8,493.6 1102.1,493.8 1105.5,494.5 1108.9,495 1112.3,494.9 1115.6,495.3 1119,495.6 1122.4,496.2 1125.8,496.5 1129.1,496.5 1132.5,497.1 1135.9,496.9 1139.2,497.1 1142.6,497.6 1146,497.6 1149.4,497.9 1152.7,497.9 1156.1,498.5 1159.5,498.9 1162.9,499.1 1166.2,499.3 1169.6,499.1 1173,499.2 1176.4,499.3 1179.7,499.3 1183.1,499.3 1186.5,499.5 1189.9,499.6 1193.2,499.5 1196.6,499.6 1200,499.3 1203.4,499.5 1206.7,499.6 1210.1,499.9 1213.5,499.9 1216.9,499.7 1220.2,499.7 1223.6,499.8 1227,499.6 1230.4,499.7 1233.7,499.7 1237.1,499.6 1240.5,499.6 1243.9,500 1247.2,499.9 1250.6,499.9 1254,500 1257.4,500.4 1260.7,500.2 1264.1,500.3 1267.5,500.4 1270.9,500.7 1274.2,500.8 1277.6,500.9 1281,500.7 1284.4,500.7 1287.7,500.7 1291.1,501 1294.5,501.2 1297.8,501 1301.2,500.9 1304.6,500.9 1308,501 1311.3,501.2 1314.7,501.4 1318.1,501.4 1321.5,501.3 1324.8,501.5 1328.2,501.6 1331.6,501.8 1335,502 1338.3,502 1341.7,501.9 1345.1,501.9 1348.5,502 1351.8,501.7 1355.2,502 1358.6,502.1 1362,502.2 1365.3,502.2 1368.7,502 1372.1,501.9 1375.5,501.7 1378.8,501.9 1382.2,501.7 1385.6,501.6 1389,501.7 1392.3,501.7 1395.7,501.8 1399.1,501.7 1402.5,501.6 1405.8,501.7 1409.2,501.7 1412.6,501.8 1416,501.7 1419.3,502.1 1422.7,502.2 1426.1,501.9 1429.5,501.9 1432.8,502 1436.2,502 1439.6,501.9 1443,502.2 1446.3,502.4 1449.7,502.3 1453.1,502.2 1456.5,502 1459.8,501.9 1463.2,502 1466.6,502 1469.9,502.3 1473.3,502.1 1476.7,502 1480.1,502.4 1483.4,502.3 1486.8,502.1 1490.2,502.3 1493.6,502.1 1496.9,502.2 1500.3,502.5 1503.7,502.6 1507.1,502.6 1510.4,502.4 1513.8,502.3 1517.2,502.2 1520.6,502.5 1523.9,502.5 1527.3,502.6 1530.7,502.4 1534.1,502.3 1537.4,502.6 1540.8,502.8 1544.2,502.8 1547.6,502.8 1550.9,502.8 1554.3,502.8 1557.7,502.5 1561.1,502.5 1564.4,502.5 1567.8,502.3 1571.2,502.2 1574.6,502.3 1577.9,502.4 1581.3,502.6 1584.7,502.9 1588.1,502.7 1591.4,502.9 1594.8,503 1598.2,503.1 1601.6,502.8 1604.9,502.6 1608.3,502.5 1611.7,502.5 1615.1,502.5 1618.4,502.7 1621.8,502.9 1625.2,503 1628.6,502.9 1631.9,502.9 1635.3,503"/>
<path fill="#0f0" d="M963.8 286l5.7 5.7l-5.7 5.7l-5.7 -5.7zM967.1 396.5l5.7 5.7l-5.7 5.7l-5.7 -5.7zM970.5 409.3l5.7 5.7l-5.7 5.7l-5.7 -5.7zM973.9 414.3l5.7 5.7l-5.7 5.7l-5.7 -5.7zM977.3 422.3l5.7 5.7l-5.7 5.7l-5.7 -5.7zM980.6 415.3l5.7 5.7l-5.7 5.7l-5.7 -5.7zM984 420.6l5.7 5.7l-5.7 5.7l-5.7 -5.7zM987.4 425.7l5.7 5.7l-5.7 5.7l-5.7 -5.7zM990.8 427.7l5.7 5.7l-5.7 5.7l-5.7 -5.7zM994.1 433l5.7 5.7l-5.7 5.7l-5.7 -5.7zM997.5 435.9l5.7 5.7l-5.7 5.7l-5.7 -5.7zM1000.9 438.8l5.7 5.7l-5.7 5.7l-5.7 -5.7zM1004.3 444.3l5.7 5.7l-5.7 5.7l-5.7 -5.7zM1007.6 446.8l5.7 5.7l-5.7 5.7l-5.7 -5.7zM1011 447.8l5.7 5.7l-5.7 5.7l-5.7 -5.7zM1014.4 453.7l5.7 5.7l-5.7 5.7l-5.7 -5.7zM1017.8 455.1l5.7 5.7l-5.7 5.7l-5.7 -5.7zM1021.1 463.3l5.7 5.7l-5.7 5.7l-5.7 -5.7zM1024.5 461.8l5.7 5.7l-5.7 5.7l-5.7 -5.7zM1027.9 466.8l5.7 5.7l-5.7 5.7l-5.7 -5.7zM1031.3 470.5l5.7 5.7l-5.7 5.7l-5.7 -5.7zM1034.6 470l5.7 5.7l-5.7 5.7l-5.7 -5.7zM1038 474.3l5.7 5.7l-5.7 5.7l-5.7 -5.7zM1041.4 475.3l5.7 5.7l-5.7 5.7l-5.7 -5.7zM1044.8 475.9l5.7 5.7l-5.7 5.7l-5.7 -5.7zM1048.1 476.8l5.7 5.7l-5.7 5.7l-5.7 -5.7zM1051.5 478.2l5.7 5.7l-5.7 5.7l-5.7 -5.7zM1054.9 480.3l5.7 5.7l-5.7 5.7l-5.7 -5.7zM1058.3 481.3l5.7 5.7l-5.7 5.7l-5.7 -5.7zM1061.6 482l5.7 5.7l-5.7 5.7l-5.7 -5.7zM1065 482.7l5.7 5.7l-5.7 5.7l-5.7 -5.7zM1068.4 482.9l5.7 5.7l-5.7 5.7l-5.7 -5.7zM1071.8 483.7l5.7 5.7l-5.7 5.7l-5.7 -5.7zM1075.1 483.8l5.7 5.7l-5.7 5.7l-5.7 -5.7zM1078.5 484.3l5.7 5.7l-5.7 5.7l-5.7 -5.7zM1081.9 485l5.7 5.7l-5.7 5.7l-5.7 -5.7zM1085.3 486.2l5.7 5.7l-5.7 5.7l-5.7 -5.7zM1088.6 486.8l5.7 5.7l-5.7 5.7l-5.7 -5.7zM1092 487l5.7 5.7l-5.7 5.7l-5.7 -5.7zM1095.4 487.6l5.7 5.7l-5.7 5.7l-5.7 -5.7zM1098.8 487.9l5.7 5.7l-5.7 5.7l-5.7 -5.7zM1102.1 488.1l5.7 5.7l-5.7 5.7l-5.7 -5.7zM1105.5 488.8l5.7 5.7l-5.7 5.7l-5.7 -5.7zM1108.9 489.3l5.7 5.7l-5.7 5.7l-5.7 -5.7zM1112.3 489.2l5.7 5.7l-5.7 5.7l-5.7 -5.7zM1115.6 489.6l5.7 5.7l-5.7 5.7l-5.7 -5.7zM1119 489.9l5.7 5.7l-5.7 5.7l-5.7 -5.7zM1122.4 490.5l5.7 5.7l-5.7 5.7l-5.7 -5.7zM1125.8 490.8l5.7 5.7l-5.7 5.7l-5.7 -5.7zM1129.1 490.8l5.7 5.7l-5.7 5.7l-5.7 -5.7zM1132.5 491.4l5.7 5.7l-5.7 5.7l-5.7 -5.7zM1135.9 491.2l5.7 5.7l-5.7 5.7l-5.7 -5.7zM1139.2 491.4l5.7 5.7l-5.7 5.7l-5.7 -5.7zM1142.6 491.9l5.7 5.7l-5.7 5.7l-5.7 -5.7zM1146 491.9l5.7 5.7l-5.7 5.7l-5.7 -5.7zM1149.4 492.2l5.7 5.7l-5.7 5.7l-5.7 -5.7zM1152.7 492.2l5.7 5.7l-5.7 5.7l-5.7 -5.7zM1156.1 492.8l5.7 5.7l-5.7 5.7l-5.7 -5.7zM1159.5 493.2l5.7 5.7l-5.7 5.7l-5.7 -5.7zM1162.9 493.4l5.7 5.7l-5.7 5.7l-5.7 -5.7zM1166.2 493.6l5.7 5.7l-5.7 5.7l-5.7 -5.7zM1169.6 493.4l5.7 5.7l-5.7 5.7l-5.7 -5.7zM1173 493.5l5.7 5.7l-5.7 5.7l-5.7 -5.7zM1176.4 493.6l5.7 5.7l-5.7 5.7l-5.7 -5.7zM1179.7 493.6l5.7 5.7l-5.7 5.7l-5.7 -5.7zM1183.1 493.6l5.7 5.7l-5.7 5.7l-5.7 -5.7zM1186.5 493.8l5.7 5.7l-5.7 5.7l-5.7 -5.7zM1189.9 493.9l5.7 5.7l-5.7 5.7l-5.7 -5.7zM1193.2 493.8l5.7 5.7l-5.7 5.7l-5.7 -5.7zM1196.6 493.9l5.7 5.7l-5.7 5.7l-5.7 -5.7zM1200 493.6l5.7 5.7l-5.7 5.7l-5.7 -5.7zM1203.4 493.8l5.7 5.7l-5.7 5.7l-5.7 -5.7zM1206.7 493.9l5.7 5.7l-5.7 5.7l-5.7 -5.7zM1210.1 494.2l5.7 5.7l-5.7 5.7l-5.7 -5.7zM1213.5 494.2l5.7 5.7l-5.7 5.7l-5.7 -5.7zM1216.9 494l5.7 5.7l-5.7 5.7l-5.7 -5.7zM1220.2 494l5.7 5.7l-5.7 5.7l-5.7 -5.7zM1223.6 494.1l5.7 5.7l-5.7 5.7l-5.7 -5.7zM1227 493.9l5.7 5.7l-5.7 5.7l-5.7 -5.7zM1230.4 494l5.7 5.7l-5.7 5.7l-5.7 -5.7zM1233.7 494l5.7 5.7l-5.7 5.7l-5.7 -5.7zM1237.1 493.9l5.7 5.7l-5.7 5.7l-5.7 -5.7zM1240.5 493.9l5.7 5.7l-5.7 5.7l-5.7 -5.7zM1243.9 494.3l5.7 5.7l-5.7 5.7l-5.7 -5.7zM1247.2 494.2l5.7 5.7l-5.7 5.7l-5.7 -5.7zM1250.6 494.2l5.7 5.7l-5.7 5.7l-5.7 -5.7zM1254 494.3l5.7 5.7l-5.7 5.7l-5.7 -5.7zM1257.4 494.7l5.7 5.7l-5.7 5.7l-5.7 -5.7zM1260.7 494.5l5.7 5.7l-5.7 5.7l-5.7 -5.7zM1264.1 494.6l5.7 5.7l-5.7 5.7l-5.7 -5.7zM1267.5 494.7l5.7 5.7l-5.7 5.7l-5.7 -5.7zM1270.9 495l5.7 5.7l-5.7 5.7l-5.7 -5.7zM1274.2 495.1l5.7 5.7l-5.7 5.7l-5.7 -5.7zM1277.6 495.2l5.7 5.7l-5.7 5.7l-5.7 -5.7zM1281 495l5.7 5.7l-5.7 5.7l-5.7 -5.7zM1284.4 495l5.7 5.7l-5.7 5.7l-5.7 -5.7zM1287.7 495l5.7 5.7l-5.7 5.7l-5.7 -5.7zM1291.1 495.3l5.7 5.7l-5.7 5.7l-5.7 -5.7zM1294.5 495.5l5.7 5.7l-5.7 5.7l-5.7 -5.7zM1297.8 495.3l5.7 5.7l-5.7 5.7l-5.7 -5.7zM1301.2 495.2l5.7 5.7l-5.7 5.7l-5.7 -5.7zM1304.6 495.2l5.7 5.7l-5.7 5.7l-5.7 -5.7zM1308 495.3l5.7 5.7l-5.7 5.7l-5.7 -5.7zM1311.3 495.5l5.7 5.7l-5.7 5.7l-5.7 -5.7zM1314.7 495.7l5.7 5.7l-5.7 5.7l-5.7 -5.7zM1318.1 495.7l5.7 5.7l-5.7 5.7l-5.7 -5.7zM1321.5 495.6l5.7 5.7l-5.7 5.7l-5.7 -5.7zM1324.8 495.8l5.7 5.7l-5.7 5.7l-5.7 -5.7zM1328.2 495.9l5.7 5.7l-5.7 5.7l-5.7 -5.7zM1331.6 496.1l5.7 5.7l-5.7 5.7l-5.7 -5.7zM1335 496.3l5.7 5.7l-5.7 5.7l-5.7 -5.7zM1338.3 496.3l5.7 5.7l-5.7 5.7l-5.7 -5.7zM1341.7 496.2l5.7 5.7l-5.7 5.7l-5.7 -5.7zM1345.1 496.2l5.7 5.7l-5.7 5.7l-5.7 -5.7zM1348.5 496.3l5.7 5.7l-5.7 5.7l-5.7 -5.7zM1351.8 496l5.7 5.7l-5.7 5.7l-5.7 -5.7zM1355.2 496.3l5.7 5.7l-5.7 5.7l-5.7 -5.7zM1358.6 496.4l5.7 5.7l-5.7 5.7l-5.7 -5.7zM1362 496.5l5.7 5.7l-5.7 5.7l-5.7 -5.7zM1365.3 496.5l5.7 5.7l-5.7 5.7l-5.7 -5.7zM1368.7 496.3l5.7 5.7l-5.7 5.7l-5.7 -5.7zM1372.1 496.2l5.7 5.7l-5.7 5.7l-5.7 -5.7zM1375.5 496l5.7 5.7l-5.7 5.7l-5.7 -5.7zM1378.8 496.2l5.7 5.7l-5.7 5.7l-5.7 -5.7zM1382.2 496l5.7 5.7l-5.7 5.7l-5.7 -5.7zM1385.6 495.9l5.7 5.7l-5.7 5.7l-5.7 -5.7zM1389 496l5.7 5.7l-5.7 5.7l-5.7 -5.7zM1392.3 496l5.7 5.7l-5.7 5.7l-5.7 -5.7zM1395.7 496.1l5.7 5.7l-5.7 5.7l-5.7 -5.7zM1399.1 496l5.7 5.7l-5.7 5.7l-5.7 -5.7zM1402.5 495.9l5.7 5.7l-5.7 5.7l-5.7 -5.7zM1405.8 496l5.7 5.7l-5.7 5.7l-5.7 -5.7zM1409.2 496l5.7 5.7l-5.7 5.7l-5.7 -5.7zM1412.6 496.1l5.7 5.7l-5.7 5.7l-5.7 -5.7zM1416 496l5.7 5.7l-5.7 5.7l-5.7 -5.7zM1419.3 496.4l5.7 5.7l-5.7 5.7l-5.7 -5.7zM1422.7 496.5l5.7 5.7l-5.7 5.7l-5.7 -5.7zM1426.1 496.2l5.7 5.7l-5.7 5.7l-5.7 -5.7zM1429.5 496.2l5.7 5.7l-5.7 5.7l-5.7 -5.7zM1432.8 496.3l5.7 5.7l-5.7 5.7l-5.7 -5.7zM1436.2 496.3l5.7 5.7l-5.7 5.7l-5.7 -5.7zM1439.6 496.2l5.7 5.7l-5.7 5.7l-5.7 -5.7zM1443 496.5l5.7 5.7l-5.7 5.7l-5.7 -5.7zM1446.3 496.7l5.7 5.7l-5.7 5.7l-5.7 -5.7zM1449.7 496.6l5.7 5.7l-5.7 5.7l-5.7 -5.7zM1453.1 496.5l5.7 5.7l-5.7 5.7l-5.7 -5.7zM1456.5 496.3l5.7 5.7l-5.7 5.7l-5.7 -5.7zM1459.8 496.2l5.7 5.7l-5.7 5.7l-5.7 -5.7zM1463.2 496.3l5.7 5.7l-5.7 5.7l-5.7 -5.7zM1466.6 496.3l5.7 5.7l-5.7 5.7l-5.7 -5.7zM1469.9 496.6l5.7 5.7l-5.7 5.7l-5.7 -5.7zM1473.3 496.4l5.7 5.7l-5.7 5.7l-5.7 -5.7zM1476.7 496.3l5.7 5.7l-5.7 5.7l-5.7 -5.7zM1480.1 496.7l5.7 5.7l-5.7 5.7l-5.7 -5.7zM1483.4 496.6l5.7 5.7l-5.7 5.7l-5.7 -5.7zM1486.8 496.4l5.7 5.7l-5.7 5.7l-5.7 -5.7zM1490.2 496.6l5.7 5.7l-5.7 5.7l-5.7 -5.7zM1493.6 496.4l5.7 5.7l-5.7 5.7l-5.7 -5.7zM1496.9 496.5l5.7 5.7l-5.7 5.7l-5.7 -5.7zM1500.3 496.8l5.7 5.7l-5.7 5.7l-5.7 -5.7zM1503.7 496.9l5.7 5.7l-5.7 5.7l-5.7 -5.7zM1507.1 496.9l5.7 5.7l-5.7 5.7l-5.7 -5.7zM1510.4 496.7l5.7 5.7l-5.7 5.7l-5.7 -5.7zM1513.8 496.6l5.7 5.7l-5.7 5.7l-5.7 -5.7zM1517.2 496.5l5.7 5.7l-5.7 5.7l-5.7 -5.7zM1520.6 496.8l5.7 5.7l-5.7 5.7l-5.7 -5.7zM1523.9 496.8l5.7 5.7l-5.7 5.7l-5.7 -5.7zM1527.3 496.9l5.7 5.7l-5.7 5.7l-5.7 -5.7zM1530.7 496.7l5.7 5.7l-5.7 5.7l-5.7 -5.7zM1534.1 496.6l5.7 5.7l-5.7 5.7l-5.7 -5.7zM1537.4 496.9l5.7 5.7l-5.7 5.7l-5.7 -5.7zM1540.8 497.1l5.7 5.7l-5.7 5.7l-5.7 -5.7zM1544.2 497.1l5.7 5.7l-5.7 5.7l-5.7 -5.7zM1547.6 497.1l5.7 5.7l-5.7 5.7l-5.7 -5.7zM1550.9 497.1l5.7 5.7l-5.7 5.7l-5.7 -5.7zM1554.3 497.1l5.7 5.7l-5.7 5.7l-5.7 -5.7zM1557.7 496.8l5.7 5.7l-5.7 5.7l-5.7 -5.7zM1561.1 496.8l5.7 5.7l-5.7 5.7l-5.7 -5.7zM1564.4 496.8l5.7 5.7l-5.7 5.7l-5.7 -5.7zM1567.8 496.6l5.7 5.7l-5.7 5.7l-5.7 -5.7zM1571.2 496.5l5.7 5.7l-5.7 5.7l-5.7 -5.7zM1574.6 496.6l5.7 5.7l-5.7 5.7l-5.7 -5.7zM1577.9 496.7l5.7 5.7l-5.7 5.7l-5.7 -5.7zM1581.3 496.9l5.7 5.7l-5.7 5.7l-5.7 -5.7zM1584.7 497.2l5.7 5.7l-5.7 5.7l-5.7 -5.7zM1588.1 497l5.7 5.7l-5.7 5.7l-5.7 -5.7zM1591.4 497.2l5.7 5.7l-5.7 5.7l-5.7 -5.7zM1594.8 497.3l5.7 5.7l-5.7 5.7l-5.7 -5.7zM1598.2 497.4l5.7 5.7l-5.7 5.7l-5.7 -5.7zM1601.6 497.1l5.7 5.7l-5.7 5.7l-5.7 -5.7zM1604.9 496.9l5.7 5.7l-5.7 5.7l-5.7 -5.7zM1608.3 496.8l5.7 5.7l-5.7 5.7l-5.7 -5.7zM1611.7 496.8l5.7 5.7l-5.7 5.7l-5.7 -5.7zM1615.1 496.8l5.7 5.7l-5.7 5.7l-5.7 -5.7zM1618.4 497l5.7 5.7l-5.7 5.7l-5.7 -5.7zM1621.8 497.2l5.7 5.7l-5.7 5.7l-5.7 -5.7zM1625.2 497.3l5.7 5.7l-5.7 5.7l-5.7 -5.7zM1628.6 497.2l5.7 5.7l-5.7 5.7l-5.7 -5.7zM1631.9 497.2l5.7 5.7l-5.7 5.7l-5.7 -5.7zM1635.3 497.3l5.7 5.7l-5.7 5.7l-5.7 -5.7z"/>
<polyline fill="none" stroke="#00f" stroke-width="1.4" stroke-linejoin="miter" points="963.8,348.7 967.1,452.6 970.5,451.2 973.9,452.3 977.3,472 980.6,476.7 984,477.8 987.4,476.2 990.8,483 994.1,485.7 997.5,488.3 1000.9,489.6 1004.3,491.4 1007.6,492.7 1011,493.6 1014.4,494.8 1017.8,495.3 1021.1,495.8 1024.5,496.5 1027.9,497.6 1031.3,498.1 1034.6,497.8 1038,498.5 1041.4,498 1044.8,498.6 1048.1,498.2 1051.5,498 1054.9,499.2 1058.3,499 1061.6,499 1065,500.1 1068.4,500.5 1071.8,500 1075.1,500.7 1078.5,500.6 1081.9,500.8 1085.3,500.3 1088.6,501.2 1092,501.3 1095.4,501.3 1098.8,501.5 1102.1,501.3 1105.5,501.3 1108.9,501.3 1112.3,501.3 1115.6,501.4 1119,501.6 1122.4,501.9 1125.8,501.8 1129.1,502.2 1132.5,502.1 1135.9,502.1 1139.2,502.3 1142.6,502.3 1146,502.2 1149.4,502.2 1152.7,502.4 1156.1,502.1 1159.5,502.5 1162.9,502.2 1166.2,502.4 1169.6,502.6 1173,502.2 1176.4,502.5 1179.7,502.4 1183.1,502.4 1186.5,502.2 1189.9,502.1 1193.2,502.1 1196.6,502.6 1200,502.4 1203.4,502.6 1206.7,502.8 1210.1,502.9 1213.5,502.6 1216.9,502.5 1220.2,502.6 1223.6,502.7 1227,502.4 1230.4,502.7 1233.7,502.8 1237.1,503 1240.5,502.6 1243.9,503 1247.2,502.7 1250.6,502.8 1254,502.9 1257.4,503.2 1260.7,503.1 1264.1,503.3 1267.5,503.3 1270.9,503.2 1274.2,503.1 1277.6,503.1 1281,503 1284.4,503.1 1287.7,503.4 1291.1,503.7 1294.5,503.5 1297.8,503.3 1301.2,503.7 1304.6,503.7 1308,503.6 1311.3,503.5 1314.7,503.6 1318.1,503.8 1321.5,503.7 1324.8,503.7 1328.2,503.5 1331.6,503.8 1335,503.5 1338.3,503.6 1341.7,503.9 1345.1,503.6 1348.5,503.8 1351.8,504 1355.2,504 1358.6,504 1362,503.7"/>
<path fill="#00f" d="M963.8 342.6l6 11.8h-11.9zM967.1 446.5l6 11.8h-11.9zM970.5 445.1l6 11.8h-11.9zM973.9 446.2l6 11.8h-11.9zM977.3 465.9l6 11.8h-11.9zM980.6 470.6l6 11.8h-11.9zM984 471.7l6 11.8h-11.9zM987.4 470.1l6 11.8h-11.9zM990.8 476.9l6 11.8h-11.9zM994.1 479.6l6 11.8h-11.9zM997.5 482.2l6 11.8h-11.9zM1000.9 483.5l6 11.8h-11.9zM1004.3 485.3l6 11.8h-11.9zM1007.6 486.6l6 11.8h-11.9zM1011 487.5l6 11.8h-11.9zM1014.4 488.7l6 11.8h-11.9zM1017.8 489.2l6 11.8h-11.9zM1021.1 489.7l6 11.8h-11.9zM1024.5 490.4l6 11.8h-11.9zM1027.9 491.5l6 11.8h-11.9zM1031.3 492l6 11.8h-11.9zM1034.6 491.7l6 11.8h-11.9zM1038 492.4l6 11.8h-11.9zM1041.4 491.9l6 11.8h-11.9zM1044.8 492.5l6 11.8h-11.9zM1048.1 492.1l6 11.8h-11.9zM1051.5 491.9l6 11.8h-11.9zM1054.9 493.1l6 11.8h-11.9zM1058.3 492.9l6 11.8h-11.9zM1061.6 492.9l6 11.8h-11.9zM1065 494l6 11.8h-11.9zM1068.4 494.4l6 11.8h-11.9zM1071.8 493.9l6 11.8h-11.9zM1075.1 494.6l6 11.8h-11.9zM1078.5 494.5l6 11.8h-11.9zM1081.9 494.7l6 11.8h-11.9zM1085.3 494.2l6 11.8h-11.9zM1088.6 495.1l6 11.8h-11.9zM1092 495.2l6 11.8h-11.9zM1095.4 495.2l6 11.8h-11.9zM1098.8 495.4l6 11.8h-11.9zM1102.1 495.2l6 11.8h-11.9zM1105.5 495.2l6 11.8h-11.9zM1108.9 495.2l6 11.8h-11.9zM1112.3 495.2l6 11.8h-11.9zM1115.6 495.3l6 11.8h-11.9zM1119 495.5l6 11.8h-11.9zM1122.4 495.8l6 11.8h-11.9zM1125.8 495.7l6 11.8h-11.9zM1129.1 496.1l6 11.8h-11.9zM1132.5 496l6 11.8h-11.9zM1135.9 496l6 11.8h-11.9zM1139.2 496.2l6 11.8h-11.9zM1142.6 496.2l6 11.8h-11.9zM1146 496.1l6 11.8h-11.9zM1149.4 496.1l6 11.8h-11.9zM1152.7 496.3l6 11.8h-11.9zM1156.1 496l6 11.8h-11.9zM1159.5 496.4l6 11.8h-11.9zM1162.9 496.1l6 11.8h-11.9zM1166.2 496.3l6 11.8h-11.9zM1169.6 496.5l6 11.8h-11.9zM1173 496.1l6 11.8h-11.9zM1176.4 496.4l6 11.8h-11.9zM1179.7 496.3l6 11.8h-11.9zM1183.1 496.3l6 11.8h-11.9zM1186.5 496.1l6 11.8h-11.9zM1189.9 496l6 11.8h-11.9zM1193.2 496l6 11.8h-11.9zM1196.6 496.5l6 11.8h-11.9zM1200 496.3l6 11.8h-11.9zM1203.4 496.5l6 11.8h-11.9zM1206.7 496.7l6 11.8h-11.9zM1210.1 496.8l6 11.8h-11.9zM1213.5 496.5l6 11.8h-11.9zM1216.9 496.4l6 11.8h-11.9zM1220.2 496.5l6 11.8h-11.9zM1223.6 496.6l6 11.8h-11.9zM1227 496.3l6 11.8h-11.9zM1230.4 496.6l6 11.8h-11.9zM1233.7 496.7l6 11.8h-11.9zM1237.1 496.9l6 11.8h-11.9zM1240.5 496.5l6 11.8h-11.9zM1243.9 496.9l6 11.8h-11.9zM1247.2 496.6l6 11.8h-11.9zM1250.6 496.7l6 11.8h-11.9zM1254 496.8l6 11.8h-11.9zM1257.4 497.1l6 11.8h-11.9zM1260.7 497l6 11.8h-11.9zM1264.1 497.2l6 11.8h-11.9zM1267.5 497.2l6 11.8h-11.9zM1270.9 497.1l6 11.8h-11.9zM1274.2 497l6 11.8h-11.9zM1277.6 497l6 11.8h-11.9zM1281 496.9l6 11.8h-11.9zM1284.4 497l6 11.8h-11.9zM1287.7 497.3l6 11.8h-11.9zM1291.1 497.6l6 11.8h-11.9zM1294.5 497.4l6 11.8h-11.9zM1297.8 497.2l6 11.8h-11.9zM1301.2 497.6l6 11.8h-11.9zM1304.6 497.6l6 11.8h-11.9zM1308 497.5l6 11.8h-11.9zM1311.3 497.4l6 11.8h-11.9zM1314.7 497.5l6 11.8h-11.9zM1318.1 497.7l6 11.8h-11.9zM1321.5 497.6l6 11.8h-11.9zM1324.8 497.6l6 11.8h-11.9zM1328.2 497.4l6 11.8h-11.9zM1331.6 497.7l6 11.8h-11.9zM1335 497.4l6 11.8h-11.9zM1338.3 497.5l6 11.8h-11.9zM1341.7 497.8l6 11.8h-11.9zM1345.1 497.5l6 11.8h-11.9zM1348.5 497.7l6 11.8h-11.9zM1351.8 497.9l6 11.8h-11.9zM1355.2 497.9l6 11.8h-11.9zM1358.6 497.9l6 11.8h-11.9zM1362 497.6l6 11.8h-11.9z"/>
<polyline fill="none" stroke="#0ff" stroke-width="1.8" stroke-linejoin="miter" points="963.8,412 967.1,475.6 970.5,479.8 973.9,485 977.3,490.5 980.6,495.8 984,499.2 987.4,501 990.8,502 994.1,502.7 997.5,502.7 1000.9,502.7 1004.3,502.7 1007.6,502.7 1011,502.7 1014.4,502.7 1017.8,502.7 1021.1,502.7 1024.5,502.7 1027.9,502.7 1031.3,502.7 1034.6,502.7 1038,502.7 1041.4,502.7 1044.8,502.8 1048.1,502.8 1051.5,502.8 1054.9,502.8 1058.3,502.8 1061.6,502.8 1065,502.8 1068.4,502.8 1071.8,502.8 1075.1,502.8 1078.5,502.8 1081.9,502.8 1085.3,502.8 1088.6,502.8"/>
<path fill="#0ff" d="M963.8 418.4l-6 -11.9h11.9zM967.1 482l-6 -11.9h11.9zM970.5 486.2l-6 -11.9h11.9zM973.9 491.4l-6 -11.9h11.9zM977.3 496.9l-6 -11.9h11.9zM980.6 502.2l-6 -11.9h11.9zM984 505.6l-6 -11.9h11.9zM987.4 507.4l-6 -11.9h11.9zM990.8 508.4l-6 -11.9h11.9zM994.1 509.1l-6 -11.9h11.9zM997.5 509.1l-6 -11.9h11.9zM1000.9 509.1l-6 -11.9h11.9zM1004.3 509.1l-6 -11.9h11.9zM1007.6 509.1l-6 -11.9h11.9zM1011 509.1l-6 -11.9h11.9zM1014.4 509.1l-6 -11.9h11.9zM1017.8 509.1l-6 -11.9h11.9zM1021.1 509.1l-6 -11.9h11.9zM1024.5 509.1l-6 -11.9h11.9zM1027.9 509.1l-6 -11.9h11.9zM1031.3 509.1l-6 -11.9h11.9zM1034.6 509.1l-6 -11.9h11.9zM1038 509.1l-6 -11.9h11.9zM1041.4 509.1l-6 -11.9h11.9zM1044.8 509.1l-6 -11.9h11.9zM1048.1 509.2l-6 -11.9h11.9zM1051.5 509.2l-6 -11.9h11.9zM1054.9 509.2l-6 -11.9h11.9zM1058.3 509.2l-6 -11.9h11.9zM1061.6 509.2l-6 -11.9h11.9zM1065 509.2l-6 -11.9h11.9zM1068.4 509.2l-6 -11.9h11.9zM1071.8 509.2l-6 -11.9h11.9zM1075.1 509.2l-6 -11.9h11.9zM1078.5 509.2l-6 -11.9h11.9zM1081.9 509.2l-6 -11.9h11.9zM1085.3 509.2l-6 -11.9h11.9zM1088.6 509.2l-6 -11.9h11.9z"/>
</g>
<path class="axl" stroke-width="1.35" d="M946.4 39.1H1636M946.4 503.5H1636M960.4 57.7h-8M960.4 76.3h-8M960.4 94.8h-8M960.4 113.4h-8M960.4 132h-14M960.4 150.6h-8M960.4 169.1h-8M960.4 187.7h-8M960.4 206.3h-8M960.4 224.9h-14M960.4 243.4h-8M960.4 262h-8M960.4 280.6h-8M960.4 299.2h-8M960.4 317.7h-14M960.4 336.3h-8M960.4 354.9h-8M960.4 373.5h-8M960.4 392h-8M960.4 410.6h-14M960.4 429.2h-8M960.4 447.8h-8M960.4 466.3h-8M960.4 484.9h-8"/>
<path class="axl" stroke-width="1.5" d="M960.4 38.4V517.5M1635.3 38.4V517.5M994.1 503.5v8M1027.9 503.5v8M1061.6 503.5v8M1095.4 503.5v8M1129.1 503.5v14M1162.9 503.5v8M1196.6 503.5v8M1230.4 503.5v8M1264.1 503.5v8M1297.8 503.5v14M1331.6 503.5v8M1365.3 503.5v8M1399.1 503.5v8M1432.8 503.5v8M1466.6 503.5v14M1500.3 503.5v8M1534.1 503.5v8M1567.8 503.5v8M1601.6 503.5v8"/>
<text class="tl" transform="translate(939.4 45.5) scale(1.06 1)" text-anchor="end">5,000</text>
<text class="tl" transform="translate(939.4 138.4) scale(1.06 1)" text-anchor="end">4,000</text>
<text class="tl" transform="translate(939.4 231.3) scale(1.06 1)" text-anchor="end">3,000</text>
<text class="tl" transform="translate(939.4 324.1) scale(1.06 1)" text-anchor="end">2,000</text>
<text class="tl" transform="translate(939.4 417) scale(1.06 1)" text-anchor="end">1,000</text>
<text class="tl" transform="translate(939.4 509.9) scale(1.06 1)" text-anchor="end">0</text>
<text class="tl" transform="translate(960.4 541.3) scale(1.04 1)" text-anchor="middle">0</text>
<text class="tl" transform="translate(1129.1 541.3) scale(1.04 1)" text-anchor="middle">50</text>
<text class="tl" transform="translate(1297.8 541.3) scale(1.04 1)" text-anchor="middle">100</text>
<text class="tl" transform="translate(1466.6 541.3) scale(1.04 1)" text-anchor="middle">150</text>
<text class="tl" transform="translate(1634 541.3) scale(1.04 1)" text-anchor="middle">200</text>
<path d="M1453.2 82.8H1511.1" stroke="#000" stroke-width="1.4" fill="none"/>
<circle cx="1482.2" cy="82.8" r="2.8" fill="#000"/>
<text class="lg" transform="translate(1530 88.7) scale(1.045 1)">a=1.0</text>
<path d="M1453.2 103.1H1511.1" stroke="#f00" stroke-width="1.4" fill="none"/>
<path fill="#f00" d="M1476.5 97.4h11.3v11.3h-11.3z"/>
<text class="lg" transform="translate(1530 109) scale(1.045 1)">a=0.8</text>
<path d="M1453.2 123.4H1511.1" stroke="#0f0" stroke-width="1.4" fill="none"/>
<path fill="#0f0" d="M1482.2 117.7l5.7 5.7l-5.7 5.7l-5.7 -5.7z"/>
<text class="lg" transform="translate(1530 129.3) scale(1.045 1)">a=0.6</text>
<path d="M1453.2 143.7H1511.1" stroke="#00f" stroke-width="1.4" fill="none"/>
<path fill="#00f" d="M1482.2 137.6l6 11.8h-11.9z"/>
<text class="lg" transform="translate(1530 149.6) scale(1.045 1)">a=0.4</text>
<path d="M1453.2 164H1511.1" stroke="#0ff" stroke-width="1.9" fill="none"/>
<path fill="#0ff" d="M1482.2 170.4l-6 -11.9h11.9z"/>
<text class="lg" transform="translate(1530 169.9) scale(1.045 1)">a=0.2</text>
<text class="cap" transform="translate(1283.2 616.3)" text-anchor="middle">(b)</text>
</g>
</svg></body></html>
